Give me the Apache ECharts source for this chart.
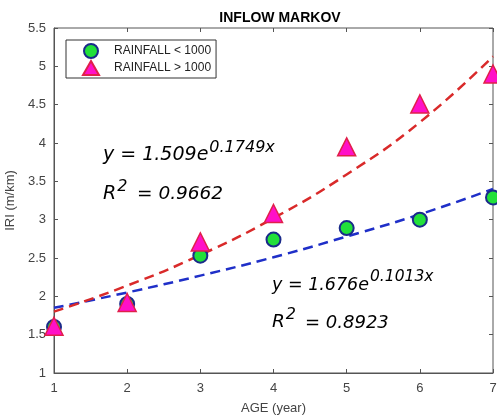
<!DOCTYPE html>
<html><head><meta charset="utf-8">
<script src="https://cdn.jsdelivr.net/npm/echarts@6/dist/echarts.min.js"></script>
<style>html,body{margin:0;padding:0;background:#fff}#c{width:497px;height:419px}</style>
</head><body><div id="c"></div>
<script>
const ages = [1, 2, 3, 4, 5, 6, 7];
const rainLow = [1.60, 1.90, 2.53, 2.74, 2.89, 3.00, 3.29];
const rainHigh = [1.61, 1.92, 2.71, 3.08, 3.95, 4.51, 4.90];
const fitHigh = [1.80, 2.14, 2.54, 3.02, 3.59, 4.27, 5.13];
const fitLow = [1.85, 2.05, 2.27, 2.51, 2.78, 3.07, 3.40];
const nameLow = 'RAINFALL < 1000';
const nameHigh = 'RAINFALL > 1000';

const pair = (xs, ys) => xs.map((x, i) => [x, ys[i]]);
const chart = echarts.init(document.getElementById('c'));
const axisText = { color: '#444', fontSize: 13, fontFamily: 'Liberation Sans' };
const FAM = '"DejaVu Sans"';
const ctx = document.createElement('canvas').getContext('2d');
const measure = (t, s) => { ctx.font = 'italic ' + s + 'px ' + FAM; return ctx.measureText(t).width; };
const txt = (x, y, t, s) => ({ type: 'text', x: x, y: y, z: 10,
  style: { text: t, fontSize: s, fontFamily: 'DejaVu Sans', fontStyle: 'italic', fill: '#000', textVerticalAlign: 'bottom' } });
// base text followed by a superscript
const sup = (x, y, base, s, exp, es, gap) => {
  const w = measure(base, s);
  return [txt(x, y, base, s), txt(x + w + gap, y - 9, exp, es)];
};

chart.setOption({
  animation: false,
  title: { text: 'INFLOW MARKOV', left: 275, top: 6, textAlign: 'center',
    textStyle: { fontSize: 14, fontWeight: 'bold', color: '#000', fontFamily: 'Liberation Sans' } },
  grid: { left: 54, right: 4, top: 28, bottom: 46, show: true, borderColor: '#555', borderWidth: 1,
    containLabel: false, outerBoundsMode: 'none' },
  legend: {
    left: 66, top: 40, orient: 'vertical', data: [nameLow, nameHigh],
    borderColor: '#333', borderWidth: 1, padding: [3, 5, 2, 16], itemGap: 1,
    itemWidth: 16, itemHeight: 14,
    textStyle: { fontSize: 12, color: '#222', fontFamily: 'Liberation Sans', lineHeight: 14, padding: [0, 0, 0, 10] }
  },
  xAxis: [{
    type: 'value', min: 1, max: 7, interval: 1,
    name: 'AGE (year)', nameLocation: 'middle', nameGap: 29,
    nameTextStyle: axisText,
    axisLine: { lineStyle: { color: '#555' } },
    axisTick: { inside: true, length: 4, lineStyle: { color: '#555' } },
    axisLabel: Object.assign({ margin: 9 }, axisText),
    splitLine: { show: false }
  }, {
    type: 'value', min: 1, max: 7, interval: 1, position: 'top',
    axisLine: { show: false }, axisTick: { inside: true, length: 4, lineStyle: { color: '#555' } },
    axisLabel: { show: false }, splitLine: { show: false }
  }],
  yAxis: [{
    type: 'value', min: 1, max: 5.5, interval: 0.5,
    name: 'IRI (m/km)', nameLocation: 'middle', nameGap: 32,
    nameTextStyle: axisText,
    axisLine: { show: true, lineStyle: { color: '#555' } },
    axisTick: { show: true, inside: true, length: 4, lineStyle: { color: '#555' } },
    axisLabel: Object.assign({ margin: 8 }, axisText),
    splitLine: { show: false }
  }, {
    type: 'value', min: 1, max: 5.5, interval: 0.5, position: 'right',
    axisLine: { show: false }, axisTick: { show: true, inside: true, length: 4, lineStyle: { color: '#555' } },
    axisLabel: { show: false }, splitLine: { show: false }
  }],
  series: [
    { type: 'line', data: pair(ages, fitLow), smooth: true, symbol: 'none', z: 2,
      lineStyle: { color: '#1f2fc8', width: 2.5, type: [10, 6] } },
    { type: 'line', data: pair(ages, fitHigh), smooth: true, symbol: 'none', z: 2,
      lineStyle: { color: '#d92a2a', width: 2.5, type: [10, 6] } },
    { name: nameLow, type: 'scatter', data: pair(ages, rainLow), symbol: 'circle', symbolSize: 14, z: 3,
      itemStyle: { color: '#22e03a', borderColor: '#1a2a8a', borderWidth: 2, opacity: 1 } },
    { name: nameHigh, type: 'scatter', data: pair(ages, rainHigh), symbol: 'triangle', symbolSize: 18, z: 4,
      itemStyle: { color: '#ff10c8', borderColor: '#e0204a', borderWidth: 1.5, opacity: 1 } }
  ],
  graphic: [].concat(
    sup(103, 165, 'y = 1.509e', 19, '0.1749x', 16, 1),
    sup(103, 204, 'R', 19, '2', 16, 1),
    [txt(137, 204, '= 0.9662', 18.5)],
    sup(272, 294, 'y = 1.676e', 17.5, '0.1013x', 15.5, 1),
    sup(272, 332, 'R', 18.5, '2', 16, 1),
    [txt(305, 332, '= 0.8923', 18)]
  )
});
</script></body></html>
